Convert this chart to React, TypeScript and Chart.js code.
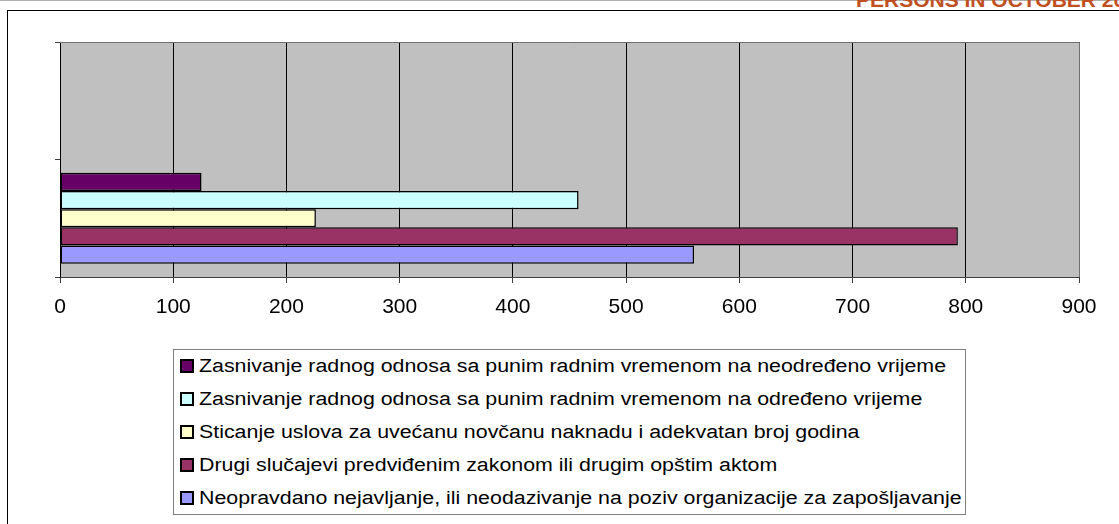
import React, { useEffect, useRef } from 'react';
import { Chart, registerables } from 'chart.js';

Chart.register(...registerables);

// ---- data ----
const categories: string[] = ['', ''];
const seriesLabels: string[] = [
  'Zasnivanje radnog odnosa sa punim radnim vremenom na neodređeno vrijeme',
  'Zasnivanje radnog odnosa sa punim radnim vremenom na određeno vrijeme',
  'Sticanje uslova za uvećanu novčanu naknadu i adekvatan broj godina',
  'Drugi slučajevi predviđenim zakonom ili drugim opštim aktom',
  'Neopravdano nejavljanje, ili neodazivanje na poziv organizacije za zapošljavanje',
];
const seriesColors: string[] = ['#660066', '#CCFFFF', '#FFFFCC', '#993366', '#9999FF'];
const zasnivanjeNeodredeno: (number | null)[] = [null, 125];
const zasnivanjeOdredeno: (number | null)[] = [null, 458];
const sticanjeUslova: (number | null)[] = [null, 226];
const drugiSlucajevi: (number | null)[] = [null, 793];
const neopravdanoNejavljanje: (number | null)[] = [null, 560];
const seriesValues = [zasnivanjeNeodredeno, zasnivanjeOdredeno, sticanjeUslova, drugiSlucajevi, neopravdanoNejavljanje];
const xMin = 0;
const xMax = 900;
const xStep = 100;
const titleText = 'PERSONS IN OCTOBER 20';

const W = 1119;
const H = 340;
const FONT = "'Liberation Sans', Arial, sans-serif";

const plotFrame = {
  id: 'plotFrame',
  beforeDraw(chart: any) {
    const { ctx, chartArea: a } = chart;
    ctx.save();
    ctx.fillStyle = '#C0C0C0';
    ctx.fillRect(a.left, a.top, a.right - a.left, a.bottom - a.top);
    ctx.restore();
  },
  afterDraw(chart: any) {
    const { ctx, chartArea: a } = chart;
    ctx.save();
    ctx.strokeStyle = '#707070';
    ctx.lineWidth = 1;
    ctx.beginPath();
    ctx.moveTo(a.left, Math.round(a.top) + 0.5);
    ctx.lineTo(Math.round(a.right) + 0.5, Math.round(a.top) + 0.5);
    ctx.lineTo(Math.round(a.right) + 0.5, a.bottom);
    ctx.stroke();
    ctx.restore();
  },
};

export default function App() {
  const ref = useRef<HTMLCanvasElement>(null);

  useEffect(() => {
    if (!ref.current) return;
    const chart = new Chart(ref.current, {
      type: 'bar',
      data: {
        labels: categories,
        datasets: seriesLabels.map((label, i) => ({
          label,
          data: seriesValues[i],
          backgroundColor: seriesColors[i],
          borderColor: '#000000',
          borderWidth: 1.5,
          borderSkipped: false,
          categoryPercentage: 0.775,
          barPercentage: 1,
        })),
      },
      options: {
        indexAxis: 'y',
        animation: false,
        responsive: false,
        maintainAspectRatio: false,
        layout: { padding: { top: 42, right: 40, left: 0, bottom: 0 } },
        plugins: {
          legend: { display: false },
          tooltip: { enabled: false },
          title: { display: false },
        },
        scales: {
          x: {
            type: 'linear',
            min: xMin,
            max: xMax,
            ticks: {
              stepSize: xStep,
              color: '#000000',
              font: { family: FONT, size: 21 },
              padding: 12,
              maxRotation: 0,
            },
            grid: {
              color: '#000000',
              lineWidth: 1,
              tickLength: 6,
              tickColor: '#404040',
            },
            border: { color: '#404040', width: 1 },
            afterFit: (s: any) => {
              s.height = H - 277;
            },
          },
          y: {
            type: 'category',
            grid: {
              drawOnChartArea: false,
              tickLength: 5,
              color: '#404040',
              offset: true,
            },
            ticks: { display: true, font: { family: FONT, size: 12 } },
            border: { color: '#000000', width: 1 },
            afterFit: (s: any) => {
              s.width = 60;
            },
          },
        },
      },
      plugins: [plotFrame],
    });
    return () => chart.destroy();
  }, []);

  return (
    <div style={{ position: 'absolute', left: 0, top: 0, width: W, height: 524, overflow: 'hidden', background: '#fff' }}>
      <div style={{ position: 'absolute', left: 0, top: 0, width: W, height: 1, background: '#b0b0b0' }} />
      <div
        style={{
          position: 'absolute',
          left: 856,
          top: -11,
          whiteSpace: 'nowrap',
          fontFamily: FONT,
          fontWeight: 'bold',
          fontSize: 21,
          lineHeight: '21px',
          color: '#C0501F',
        }}
      >
        {titleText}
      </div>
      <div
        style={{
          position: 'absolute',
          left: 7,
          top: 10,
          width: W - 7,
          height: 524 - 10,
          borderLeft: '1px solid #000',
          borderTop: '1px solid #000',
          boxSizing: 'border-box',
        }}
      />
      <canvas ref={ref} width={W} height={H} style={{ position: 'absolute', left: 0, top: 0, width: W, height: H }} />
      <div
        style={{
          position: 'absolute',
          left: 173,
          top: 349,
          width: 793,
          height: 166,
          border: '1px solid #808080',
          boxSizing: 'border-box',
          background: '#fff',
          paddingTop: 0,
        }}
      >
        {seriesLabels.map((label, i) => (
          <div
            key={label}
            style={{ height: 32.8, display: 'flex', alignItems: 'center', paddingLeft: 6 }}
          >
            <span
              style={{
                display: 'inline-block',
                width: 14,
                height: 14,
                boxSizing: 'border-box',
                border: '2px solid #000',
                background: seriesColors[i],
                flex: '0 0 auto',
              }}
            />
            <span
              style={{
                display: 'inline-block',
                marginLeft: 5,
                fontFamily: FONT,
                fontSize: 18,
                lineHeight: '20px',
                color: '#000',
                whiteSpace: 'nowrap',
                transform: 'scaleX(1.187)',
                transformOrigin: 'left center',
              }}
            >
              {label}
            </span>
          </div>
        ))}
      </div>
    </div>
  );
}
